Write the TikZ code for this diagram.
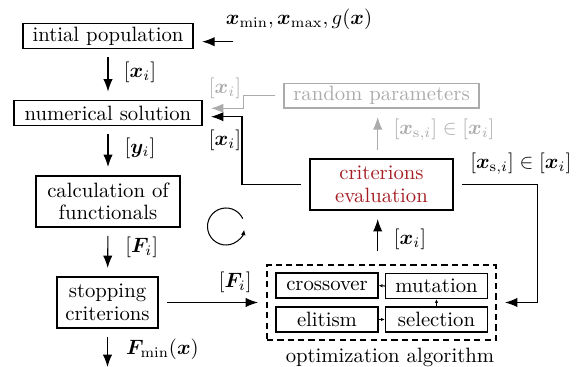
\documentclass[tikz,border=0pt]{standalone}
\usepackage{amsmath,bm}
\usetikzlibrary{arrows.meta}
\definecolor{evalred}{RGB}{165,30,35}
\colorlet{faint}{black!33}
\tikzset{
  box/.style={draw, line width=0.7pt, inner sep=1pt, align=center, minimum height=12pt},
  tallbox/.style={box, minimum height=24.6pt},
  conn/.style={line width=0.5pt, -{Latex[length=6pt,width=4.5pt]}},
  gap/.style={shorten <=4pt, shorten >=4pt},
  smallarrow/.style={line width=0.5pt, -{Latex[length=1.8pt,width=1.6pt]}},
  lbl/.style={inner sep=0pt},
}
\begin{document}
\begin{tikzpicture}[x=0.4826pt, y=-0.4826pt]
\useasboundingbox (0,0) rectangle (583,367);

% main chain
\node[box, minimum width=82.2pt] (init) at (108,36) {intial population};
\node[box, minimum width=90.7pt] (num) at (108,113) {numerical solution};
\node[tallbox, minimum width=69.5pt] (calc) at (108,201.5) {calculation of\\[-1.2pt]functionals};
\node[tallbox, minimum width=48.7pt] (stop) at (107.5,302.5) {stopping\\[-1.2pt]criterions};

% evaluation and random parameters
\node[tallbox, minimum width=69pt, text=evalred] (crit) at (381.5,184.5) {criterions\\[-1.2pt]evaluation};
\node[box, draw=faint, text=faint, minimum width=94.1pt] (rand) at (381.5,95.7) {random parameters};

% optimization algorithm
\node[draw, line width=0.7pt, dash pattern=on 3pt off 2pt, minimum width=110.5pt, minimum height=36.2pt] (opt) at (381.5,302.5) {};
\node[box, minimum width=49.2pt] (cross) at (327,285.5) {crossover};
\node[box, minimum width=49.2pt] (mut) at (436.5,286) {mutation};
\node[box, minimum width=49.2pt] (elit) at (327,319.5) {elitism};
\node[box, minimum width=49.2pt] (sel) at (436.5,319.5) {selection};
\node[lbl] (optname) at (390,357.8) {optimization algorithm};

% helper coordinates
\coordinate (limits) at (233.3,41.7);
\coordinate (out) at (108,367);
\coordinate (fb) at (242,116.7);
\coordinate (rb) at (243.3,108.3);
\coordinate (xb) at (537.3,302.5);
\coordinate (vx) at (377.7,0);

% connectors
\draw[conn, shorten >=4pt] (limits) -- (limits -| init.east);
\draw[conn, gap] (init) -- (num);
\draw[conn, gap] (num) -- (calc);
\draw[conn, gap] (calc) -- (stop);
\draw[conn, shorten <=4pt] (stop.south) -- (stop.south |- out);
\draw[conn, gap] (stop.east) -- (opt.west);
\draw[conn, shorten <=6.3pt, shorten >=4pt] (opt.north -| vx) -- (crit.south -| vx);
\draw[conn, faint, gap] (crit.north -| vx) -- (rand.south -| vx);
\draw[conn, gap] (crit.west) -| (fb) -- (fb -| num.east);
\draw[conn, faint, gap] (rand.west) -| (rb) -- (rb -| num.east);
\draw[conn, gap] (crit.east) -| (xb) -- (opt.east);

\draw[smallarrow] (mut.west) -- (cross.east);
\draw[smallarrow] (elit.east) -- (sel.west);
\draw[smallarrow] (sel.north) -- (mut.south);

% iteration symbol
\coordinate (loop) at (226,226.5);
\draw[line width=0.5pt, -{Latex[length=2.6pt,width=2.3pt]}] (loop) ++(25:8.93pt) arc[start angle=25, end angle=350, radius=8.93pt];

% labels
\node[lbl] (limtxt) at (299,19) {$\bm{x}_{\min},\bm{x}_{\max},g(\bm{x})$};
\node[lbl] (l1) at (140,72.5) {$[\bm{x}_i]$};
\node[lbl] (l2) at (140,148) {$[\bm{y}_i]$};
\node[lbl] (l3) at (141.7,247.5) {$[\bm{F}_i]$};
\node[lbl] (l4) at (162.5,349) {$\bm{F}_{\min}(\bm{x})$};
\node[lbl] (l5) at (235.3,282) {$[\bm{F}_i]$};
\node[lbl] (l6) at (225,140) {$[\bm{x}_i]$};
\node[lbl, text=faint] (l7) at (225,88) {$[\bm{x}_i]$};
\node[lbl, text=faint] (l8) at (444,129.7) {$[\bm{x}_{\mathrm{s},i}]\in[\bm{x}_i]$};
\node[lbl] (l9) at (520.8,163.3) {$[\bm{x}_{\mathrm{s},i}]\in[\bm{x}_i]$};
\node[lbl] (l10) at (410,239.3) {$[\bm{x}_i]$};
\end{tikzpicture}
\end{document}
